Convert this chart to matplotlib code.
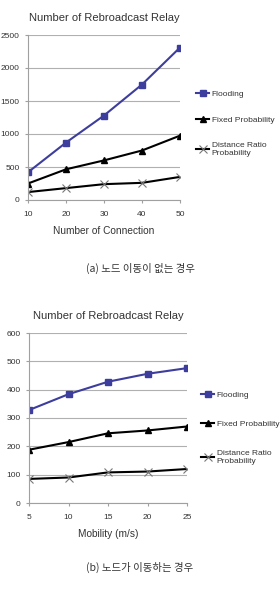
import matplotlib
matplotlib.use('Agg')
import matplotlib.pyplot as plt

# data
connections = [10, 20, 30, 40, 50]
flood_a = [420, 870, 1280, 1750, 2310]
fixed_a = [250, 465, 600, 750, 975]
dist_a = [120, 180, 240, 260, 350]

mobility = [5, 10, 15, 20, 25]
flood_b = [328, 384, 428, 456, 476]
fixed_b = [188, 215, 246, 256, 270]
dist_b = [85, 90, 108, 111, 120]

series_names = ['Flooding', 'Fixed Probability', 'Distance Ratio\nProbability']
blue = '#3d3d9e'

plt.rcParams['font.family'] = ['Liberation Sans', 'DejaVu Sans']

fig = plt.figure(figsize=(2.8, 5.96), dpi=100)
W, H = 280, 596


def px_axes(x0, y0, x1, y1):
    return fig.add_axes([x0 / W, 1 - y1 / H, (x1 - x0) / W, (y1 - y0) / H])


def draw(ax, x, fl, fx, ds, yticks, xlabel, title, leg_x, leg_y, spacing):
    ax.plot(x, fl, color=blue, marker='s', ms=4.5, lw=1.5, label=series_names[0])
    ax.plot(x, fx, color='black', marker='^', ms=4.5, lw=1.5, label=series_names[1])
    ax.plot(x, ds, color='black', marker='x', ms=6, mew=0.8, mec='#777777', lw=1.5, label=series_names[2])
    ax.set_xlim(x[0], x[-1])
    ax.set_ylim(yticks[0], yticks[-1])
    ax.set_xticks(x)
    ax.set_yticks(yticks)
    ax.yaxis.grid(True, color='#b0b0b0', lw=0.8)
    ax.set_axisbelow(True)
    for s in ['top', 'right']:
        ax.spines[s].set_visible(False)
    for s in ['left', 'bottom']:
        ax.spines[s].set_color('#a0a0a0')
    ax.tick_params(labelsize=6, length=2, color='#a0a0a0', pad=4, labelcolor='#333333')
    ax.tick_params(axis='x', pad=6)
    ax.set_xlabel(xlabel, fontsize=7.3, color='#333333', labelpad=6)
    ax.set_title(title, fontsize=8, color='#333333', pad=10)
    ax.legend(loc='upper left', bbox_to_anchor=(leg_x / W, 1 - leg_y / H), bbox_transform=fig.transFigure,
              frameon=False, fontsize=6, handlelength=1.6, handletextpad=0.3, labelspacing=spacing,
              borderaxespad=0, borderpad=0, labelcolor='#333333')


ax1 = px_axes(28, 35, 180, 200)
draw(ax1, connections, flood_a, fixed_a, dist_a, [0, 500, 1000, 1500, 2000, 2500],
     'Number of Connection', 'Number of Rebroadcast Relay', 196, 90, 2.2)

ax2 = px_axes(29, 333, 187, 503)
draw(ax2, mobility, flood_b, fixed_b, dist_b, [0, 100, 200, 300, 400, 500, 600],
     'Mobility (m/s)', 'Number of Rebroadcast Relay', 201, 391, 2.6)

fig.text(140 / W, 1 - 268 / H, '(a) 노드 이동이 없는 경우', ha='center', va='center', fontsize=7.5,
         family=['Noto Sans CJK KR', 'DejaVu Sans'], color='#333333')
fig.text(140 / W, 1 - 567 / H, '(b) 노드가 이동하는 경우', ha='center', va='center', fontsize=7.5,
         family=['Noto Sans CJK KR', 'DejaVu Sans'], color='#333333')

fig.savefig('out.png', dpi=100)
